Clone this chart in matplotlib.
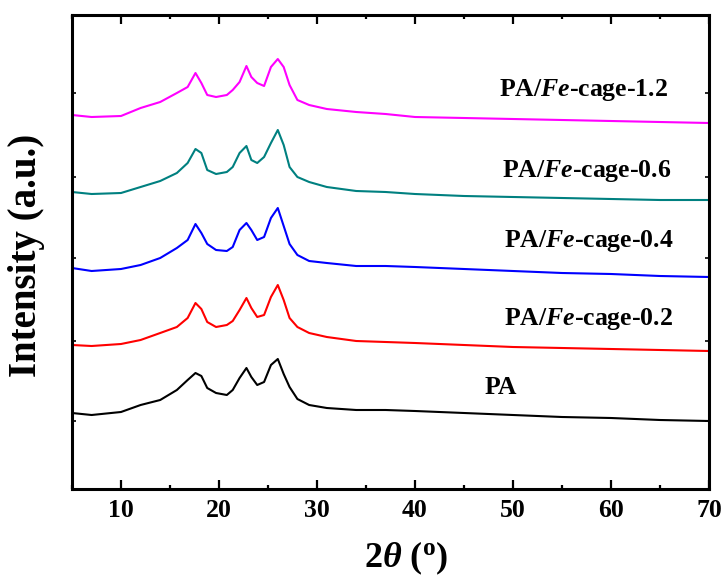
import matplotlib
matplotlib.use("Agg")
import matplotlib.pyplot as plt
from matplotlib.ticker import MultipleLocator, NullFormatter

plt.rcParams['font.family'] = ['Liberation Serif', 'DejaVu Serif']
plt.rcParams['font.weight'] = 'bold'
plt.rcParams['mathtext.fontset'] = 'custom'
plt.rcParams['mathtext.rm'] = 'Liberation Serif:bold'
plt.rcParams['mathtext.it'] = 'Liberation Serif:italic:bold'
plt.rcParams['mathtext.bf'] = 'Liberation Serif:bold'

# 2-theta (degrees)
two_theta = [5, 7, 10, 12, 14, 15.7, 16.8, 17.6, 18.2, 18.8, 19.7, 20.8, 21.4, 22.1,
             22.8, 23.3, 23.9, 24.6, 25.3, 26.0, 26.6, 27.2, 28.0, 29.2, 31, 34, 37,
             40, 45, 50, 55, 60, 65, 70]

# Intensities (a.u., offset curves)
pa = [900, 880, 910, 980, 1030, 1130, 1230, 1300, 1270, 1150, 1100, 1080, 1130, 1250,
      1350, 1260, 1180, 1210, 1380, 1440, 1290, 1160, 1040, 980, 950, 930, 930,
      920, 900, 880, 860, 850, 830, 820]
fe_02 = [1580, 1570, 1590, 1630, 1700, 1760, 1850, 2000, 1940, 1810, 1760, 1780, 1820, 1930,
         2050, 1950, 1860, 1880, 2060, 2180, 2030, 1850, 1760, 1700, 1660, 1620, 1610,
         1600, 1580, 1560, 1550, 1540, 1530, 1520]
fe_04 = [2350, 2320, 2340, 2380, 2450, 2550, 2630, 2790, 2700, 2590, 2530, 2520, 2560, 2730,
         2800, 2730, 2630, 2660, 2850, 2950, 2770, 2590, 2480, 2420, 2400, 2370, 2370,
         2360, 2340, 2320, 2300, 2290, 2270, 2260]
fe_06 = [3110, 3090, 3100, 3160, 3220, 3300, 3400, 3540, 3500, 3330, 3290, 3310, 3360, 3500,
         3570, 3430, 3400, 3460, 3600, 3730, 3580, 3360, 3260, 3210, 3160, 3120, 3110,
         3090, 3070, 3060, 3050, 3040, 3030, 3030]
fe_12 = [3880, 3860, 3870, 3950, 4010, 4100, 4160, 4300, 4200, 4080, 4060, 4080, 4130, 4210,
         4370, 4260, 4200, 4170, 4360, 4440, 4360, 4180, 4030, 3980, 3940, 3910, 3890,
         3860, 3850, 3840, 3830, 3820, 3810, 3800]

series = [pa, fe_02, fe_04, fe_06, fe_12]
colors = ['#000000', '#FF0000', '#0000FF', '#008080', '#FF00FF']
labels = ['PA', r'PA/$Fe$-cage-0.2', r'PA/$Fe$-cage-0.4', r'PA/$Fe$-cage-0.6',
          r'PA/$Fe$-cage-1.2']
label_x = [48.8, 57.7, 57.7, 57.5, 57.2]
label_y = [1160, 1840, 2620, 3320, 4130]

x_major_ticks = [10, 20, 30, 40, 50, 60, 70]
y_ticks = [820, 1620, 2450, 3260, 4100]

fig = plt.figure(figsize=(7.26, 5.76), dpi=100)
ax = fig.add_axes([72/726, 1 - 489/576, (709-72)/726, (489-15)/576])

for y, c in zip(series, colors):
    ax.plot(two_theta, y, color=c, lw=1.5)

for t, lx, ly in zip(labels, label_x, label_y):
    ax.text(lx, ly, t, ha='center', va='center', fontsize=18.5, fontweight='bold')

ax.set_xlim(5, 70)
ax.set_ylim(140, 4880)
ax.set_xticks(x_major_ticks)
ax.xaxis.set_minor_locator(MultipleLocator(5))
ax.set_yticks(y_ticks)
ax.yaxis.set_major_formatter(NullFormatter())

for s in ax.spines.values():
    s.set_linewidth(2.2)

ax.tick_params(axis='x', which='major', direction='in', length=6.5, width=1.6,
               labelsize=18.5, pad=7)
ax.tick_params(axis='x', which='minor', direction='in', length=3.2, width=1.6)
ax.tick_params(axis='x', which='both', top=True, labeltop=False)
ax.tick_params(axis='y', which='major', direction='in', length=3, width=1.2,
               right=True)

for lab in ax.get_xticklabels():
    lab.set_fontweight('bold')

ax.set_xlabel(r'2$\theta$ ($^{\rm o}$)', fontsize=26, fontweight='bold', va='center')
ax.xaxis.set_label_coords((406-72)/637, (489-558)/474)
ax.set_ylabel('Intensity (a.u.)', fontsize=28, fontweight='bold', va='center')
ax.yaxis.set_label_coords((27-72)/637, (489-255)/474)

fig.savefig('out.png', dpi=100)
